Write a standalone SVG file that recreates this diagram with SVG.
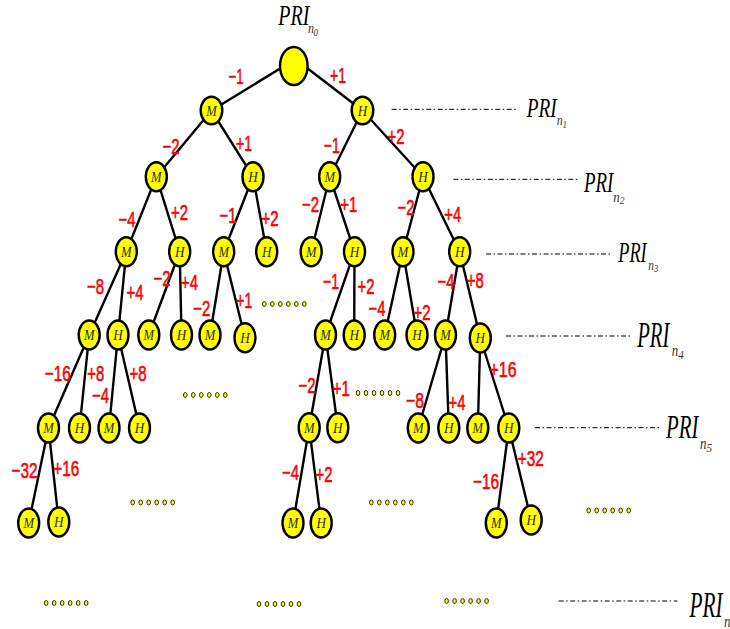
<svg xmlns="http://www.w3.org/2000/svg" width="730" height="629" viewBox="0 0 730 629">
<style>
  .edge { stroke: #000; stroke-width: 2.4; fill: none; stroke-linecap: round; }
  .node ellipse { fill: #ffff00; stroke: #000; stroke-width: 2.4; }
  .node text { font-family: "Liberation Serif", serif; font-style: italic; font-size: 15px; fill: #2a2a2a; text-anchor: middle; }
  .w { font-family: "Liberation Sans", Arial, sans-serif; font-size: 22px; fill: #ff0000; stroke: #ff0000; stroke-width: 0.6; text-anchor: middle; }
  .lvl { stroke: #000; stroke-width: 1; stroke-dasharray: 5 2.5 1.5 2.5; fill: none; }
  .pri { font-family: "Liberation Serif", serif; font-style: italic; fill: #000; }
  .sub { font-family: "Liberation Serif", serif; font-style: italic; fill: #333; }
  .dot { fill: #ffff00; stroke: #000; stroke-width: 0.8; }
</style>
<defs>
  <g id="dots6">
    <ellipse class="dot" cx="2" cy="0" rx="1.8" ry="2.5"/>
    <ellipse class="dot" cx="10" cy="0" rx="1.8" ry="2.5"/>
    <ellipse class="dot" cx="18" cy="0" rx="1.8" ry="2.5"/>
    <ellipse class="dot" cx="26" cy="0" rx="1.8" ry="2.5"/>
    <ellipse class="dot" cx="34" cy="0" rx="1.8" ry="2.5"/>
    <ellipse class="dot" cx="42" cy="0" rx="1.8" ry="2.5"/>
  </g>
</defs>

<!-- connectors -->
<g id="edges">
  <line class="edge" x1="281" y1="68" x2="211.5" y2="110.5"/>
  <line class="edge" x1="307" y1="68" x2="362.5" y2="110.5"/>

  <line class="edge" x1="211.5" y1="110.5" x2="156.3" y2="176.7"/>
  <line class="edge" x1="211.5" y1="110.5" x2="253" y2="176.7"/>
  <line class="edge" x1="362.5" y1="110.5" x2="329.7" y2="176.7"/>
  <line class="edge" x1="362.5" y1="110.5" x2="423" y2="176.7"/>

  <line class="edge" x1="156.3" y1="176.7" x2="126.3" y2="251.7"/>
  <line class="edge" x1="156.3" y1="176.7" x2="179.7" y2="251.7"/>
  <line class="edge" x1="253" y1="176.7" x2="223.7" y2="251.7"/>
  <line class="edge" x1="253" y1="176.7" x2="266.7" y2="251.7"/>
  <line class="edge" x1="329.7" y1="176.7" x2="311.2" y2="251.7"/>
  <line class="edge" x1="329.7" y1="176.7" x2="354.5" y2="251.7"/>
  <line class="edge" x1="423" y1="176.7" x2="403" y2="251.7"/>
  <line class="edge" x1="423" y1="176.7" x2="459.7" y2="251.7"/>

  <line class="edge" x1="126.3" y1="251.7" x2="89.2" y2="335"/>
  <line class="edge" x1="126.3" y1="251.7" x2="118" y2="335"/>
  <line class="edge" x1="179.7" y1="251.7" x2="148.8" y2="335"/>
  <line class="edge" x1="179.7" y1="251.7" x2="181.5" y2="335"/>
  <line class="edge" x1="223.7" y1="251.7" x2="210" y2="335"/>
  <line class="edge" x1="223.7" y1="251.7" x2="245" y2="337.7"/>
  <line class="edge" x1="354.5" y1="251.7" x2="325.5" y2="335"/>
  <line class="edge" x1="354.5" y1="251.7" x2="354.2" y2="335"/>
  <line class="edge" x1="403" y1="251.7" x2="384.7" y2="335"/>
  <line class="edge" x1="403" y1="251.7" x2="417" y2="335"/>
  <line class="edge" x1="459.7" y1="251.7" x2="445.5" y2="335"/>
  <line class="edge" x1="459.7" y1="251.7" x2="480.3" y2="338"/>

  <line class="edge" x1="89.2" y1="335" x2="48.5" y2="428"/>
  <line class="edge" x1="89.2" y1="335" x2="79.5" y2="428"/>
  <line class="edge" x1="118" y1="335" x2="109" y2="428"/>
  <line class="edge" x1="118" y1="335" x2="139.5" y2="428"/>
  <line class="edge" x1="325.5" y1="335" x2="309.2" y2="427.7"/>
  <line class="edge" x1="325.5" y1="335" x2="337.8" y2="427.7"/>
  <line class="edge" x1="445.5" y1="335" x2="418.3" y2="428"/>
  <line class="edge" x1="445.5" y1="335" x2="448.8" y2="428"/>
  <line class="edge" x1="480.3" y1="338" x2="477.8" y2="428"/>
  <line class="edge" x1="480.3" y1="338" x2="508.8" y2="428"/>

  <line class="edge" x1="48.5" y1="428" x2="28.7" y2="523"/>
  <line class="edge" x1="48.5" y1="428" x2="58.8" y2="522"/>
  <line class="edge" x1="309.2" y1="427.7" x2="293" y2="523"/>
  <line class="edge" x1="309.2" y1="427.7" x2="321.2" y2="523"/>
  <line class="edge" x1="508.8" y1="428" x2="496.3" y2="523"/>
  <line class="edge" x1="508.8" y1="428" x2="531.2" y2="520"/>
</g>

<!-- nodes -->
<g id="root" class="node"><ellipse cx="293.8" cy="66" rx="13.8" ry="19"/></g>

<g id="a1" class="node"><ellipse cx="211.5" cy="110.5" rx="10.8" ry="13.8"/><text x="211.5" y="115.5" textLength="10.5" lengthAdjust="spacingAndGlyphs">M</text></g>
<g id="a2" class="node"><ellipse cx="362.5" cy="110.5" rx="10.8" ry="13.8"/><text x="362.5" y="115.5" textLength="9.5" lengthAdjust="spacingAndGlyphs">H</text></g>

<g id="b1" class="node"><ellipse cx="156.3" cy="176.7" rx="10.5" ry="14.5"/><text x="156.3" y="181.7" textLength="10.5" lengthAdjust="spacingAndGlyphs">M</text></g>
<g id="b2" class="node"><ellipse cx="253" cy="176.7" rx="10.5" ry="14.5"/><text x="253" y="181.7" textLength="9.5" lengthAdjust="spacingAndGlyphs">H</text></g>
<g id="b3" class="node"><ellipse cx="329.7" cy="176.7" rx="10.5" ry="14.5"/><text x="329.7" y="181.7" textLength="10.5" lengthAdjust="spacingAndGlyphs">M</text></g>
<g id="b4" class="node"><ellipse cx="423" cy="176.7" rx="10.5" ry="14.5"/><text x="423" y="181.7" textLength="9.5" lengthAdjust="spacingAndGlyphs">H</text></g>

<g id="c1" class="node"><ellipse cx="126.3" cy="251.7" rx="10.5" ry="14.5"/><text x="126.3" y="256.7" textLength="10.5" lengthAdjust="spacingAndGlyphs">M</text></g>
<g id="c2" class="node"><ellipse cx="179.7" cy="251.7" rx="10.5" ry="14.5"/><text x="179.7" y="256.7" textLength="9.5" lengthAdjust="spacingAndGlyphs">H</text></g>
<g id="c3" class="node"><ellipse cx="223.7" cy="251.7" rx="10.5" ry="14.5"/><text x="223.7" y="256.7" textLength="10.5" lengthAdjust="spacingAndGlyphs">M</text></g>
<g id="c4" class="node"><ellipse cx="266.7" cy="251.7" rx="10.5" ry="14.5"/><text x="266.7" y="256.7" textLength="9.5" lengthAdjust="spacingAndGlyphs">H</text></g>
<g id="c5" class="node"><ellipse cx="311.2" cy="251.7" rx="10.5" ry="14.5"/><text x="311.2" y="256.7" textLength="10.5" lengthAdjust="spacingAndGlyphs">M</text></g>
<g id="c6" class="node"><ellipse cx="354.5" cy="251.7" rx="10.5" ry="14.5"/><text x="354.5" y="256.7" textLength="9.5" lengthAdjust="spacingAndGlyphs">H</text></g>
<g id="c7" class="node"><ellipse cx="403" cy="251.7" rx="10.5" ry="14.5"/><text x="403" y="256.7" textLength="10.5" lengthAdjust="spacingAndGlyphs">M</text></g>
<g id="c8" class="node"><ellipse cx="459.7" cy="251.7" rx="10.5" ry="14.5"/><text x="459.7" y="256.7" textLength="9.5" lengthAdjust="spacingAndGlyphs">H</text></g>

<g id="d1" class="node"><ellipse cx="89.2" cy="335" rx="10.5" ry="14.5"/><text x="89.2" y="340" textLength="10.5" lengthAdjust="spacingAndGlyphs">M</text></g>
<g id="d2" class="node"><ellipse cx="118" cy="335" rx="10.5" ry="14.5"/><text x="118" y="340" textLength="9.5" lengthAdjust="spacingAndGlyphs">H</text></g>
<g id="d3" class="node"><ellipse cx="148.8" cy="335" rx="10.5" ry="14.5"/><text x="148.8" y="340" textLength="10.5" lengthAdjust="spacingAndGlyphs">M</text></g>
<g id="d4" class="node"><ellipse cx="181.5" cy="335" rx="10.5" ry="14.5"/><text x="181.5" y="340" textLength="9.5" lengthAdjust="spacingAndGlyphs">H</text></g>
<g id="d5" class="node"><ellipse cx="210" cy="335" rx="10.5" ry="14.5"/><text x="210" y="340" textLength="10.5" lengthAdjust="spacingAndGlyphs">M</text></g>
<g id="d6" class="node"><ellipse cx="245" cy="337.7" rx="10.5" ry="14.5"/><text x="245" y="342.7" textLength="9.5" lengthAdjust="spacingAndGlyphs">H</text></g>
<g id="d7" class="node"><ellipse cx="325.5" cy="335" rx="10.5" ry="14.5"/><text x="325.5" y="340" textLength="10.5" lengthAdjust="spacingAndGlyphs">M</text></g>
<g id="d8" class="node"><ellipse cx="354.2" cy="335" rx="10.5" ry="14.5"/><text x="354.2" y="340" textLength="9.5" lengthAdjust="spacingAndGlyphs">H</text></g>
<g id="d9" class="node"><ellipse cx="384.7" cy="335" rx="10.5" ry="14.5"/><text x="384.7" y="340" textLength="10.5" lengthAdjust="spacingAndGlyphs">M</text></g>
<g id="d10" class="node"><ellipse cx="417" cy="335" rx="10.5" ry="14.5"/><text x="417" y="340" textLength="9.5" lengthAdjust="spacingAndGlyphs">H</text></g>
<g id="d11" class="node"><ellipse cx="445.5" cy="335" rx="10.5" ry="14.5"/><text x="445.5" y="340" textLength="10.5" lengthAdjust="spacingAndGlyphs">M</text></g>
<g id="d12" class="node"><ellipse cx="480.3" cy="338" rx="10.5" ry="14.5"/><text x="480.3" y="343" textLength="9.5" lengthAdjust="spacingAndGlyphs">H</text></g>

<g id="e1" class="node"><ellipse cx="48.5" cy="428" rx="10.5" ry="14.5"/><text x="48.5" y="433" textLength="10.5" lengthAdjust="spacingAndGlyphs">M</text></g>
<g id="e2" class="node"><ellipse cx="79.5" cy="428" rx="10.5" ry="14.5"/><text x="79.5" y="433" textLength="9.5" lengthAdjust="spacingAndGlyphs">H</text></g>
<g id="e3" class="node"><ellipse cx="109" cy="428" rx="10.5" ry="14.5"/><text x="109" y="433" textLength="10.5" lengthAdjust="spacingAndGlyphs">M</text></g>
<g id="e4" class="node"><ellipse cx="139.5" cy="428" rx="10.5" ry="14.5"/><text x="139.5" y="433" textLength="9.5" lengthAdjust="spacingAndGlyphs">H</text></g>
<g id="e5" class="node"><ellipse cx="309.2" cy="427.7" rx="10.5" ry="14.5"/><text x="309.2" y="432.7" textLength="10.5" lengthAdjust="spacingAndGlyphs">M</text></g>
<g id="e6" class="node"><ellipse cx="337.8" cy="427.7" rx="10.5" ry="14.5"/><text x="337.8" y="432.7" textLength="9.5" lengthAdjust="spacingAndGlyphs">H</text></g>
<g id="e7" class="node"><ellipse cx="418.3" cy="428" rx="10.5" ry="14.5"/><text x="418.3" y="433" textLength="10.5" lengthAdjust="spacingAndGlyphs">M</text></g>
<g id="e8" class="node"><ellipse cx="448.8" cy="428" rx="10.5" ry="14.5"/><text x="448.8" y="433" textLength="9.5" lengthAdjust="spacingAndGlyphs">H</text></g>
<g id="e9" class="node"><ellipse cx="477.8" cy="428" rx="10.5" ry="14.5"/><text x="477.8" y="433" textLength="10.5" lengthAdjust="spacingAndGlyphs">M</text></g>
<g id="e10" class="node"><ellipse cx="508.8" cy="428" rx="10.5" ry="14.5"/><text x="508.8" y="433" textLength="9.5" lengthAdjust="spacingAndGlyphs">H</text></g>

<g id="f1" class="node"><ellipse cx="28.7" cy="523" rx="10.5" ry="14.5"/><text x="28.7" y="528" textLength="10.5" lengthAdjust="spacingAndGlyphs">M</text></g>
<g id="f2" class="node"><ellipse cx="58.8" cy="522" rx="10.5" ry="14.5"/><text x="58.8" y="527" textLength="9.5" lengthAdjust="spacingAndGlyphs">H</text></g>
<g id="f3" class="node"><ellipse cx="293" cy="523" rx="10.5" ry="14.5"/><text x="293" y="528" textLength="10.5" lengthAdjust="spacingAndGlyphs">M</text></g>
<g id="f4" class="node"><ellipse cx="321.2" cy="523" rx="10.5" ry="14.5"/><text x="321.2" y="528" textLength="9.5" lengthAdjust="spacingAndGlyphs">H</text></g>
<g id="f5" class="node"><ellipse cx="496.3" cy="523" rx="10.5" ry="14.5"/><text x="496.3" y="528" textLength="10.5" lengthAdjust="spacingAndGlyphs">M</text></g>
<g id="f6" class="node"><ellipse cx="531.2" cy="520" rx="10.5" ry="14.5"/><text x="531.2" y="525" textLength="9.5" lengthAdjust="spacingAndGlyphs">H</text></g>

<!-- edge weights -->
<g id="weights">
  <text class="w" x="236" y="84" textLength="15" lengthAdjust="spacingAndGlyphs">−1</text>
  <text class="w" x="338" y="83" textLength="16" lengthAdjust="spacingAndGlyphs">+1</text>
  <text class="w" x="171" y="154" textLength="17" lengthAdjust="spacingAndGlyphs">−2</text>
  <text class="w" x="244" y="151" textLength="16" lengthAdjust="spacingAndGlyphs">+1</text>
  <text class="w" x="331.7" y="153" textLength="16" lengthAdjust="spacingAndGlyphs">−1</text>
  <text class="w" x="396" y="144" textLength="17" lengthAdjust="spacingAndGlyphs">+2</text>
  <text class="w" x="127" y="227" textLength="17" lengthAdjust="spacingAndGlyphs">−4</text>
  <text class="w" x="179.5" y="219.5" textLength="17" lengthAdjust="spacingAndGlyphs">+2</text>
  <text class="w" x="228" y="223" textLength="17" lengthAdjust="spacingAndGlyphs">−1</text>
  <text class="w" x="270" y="226" textLength="17" lengthAdjust="spacingAndGlyphs">+2</text>
  <text class="w" x="310.5" y="212" textLength="17" lengthAdjust="spacingAndGlyphs">−2</text>
  <text class="w" x="348.7" y="211.5" textLength="17" lengthAdjust="spacingAndGlyphs">+1</text>
  <text class="w" x="406" y="215" textLength="17" lengthAdjust="spacingAndGlyphs">−2</text>
  <text class="w" x="452.8" y="222" textLength="17" lengthAdjust="spacingAndGlyphs">+4</text>
  <text class="w" x="95.5" y="294" textLength="17" lengthAdjust="spacingAndGlyphs">−8</text>
  <text class="w" x="135" y="300" textLength="17" lengthAdjust="spacingAndGlyphs">+4</text>
  <text class="w" x="162" y="285.5" textLength="17" lengthAdjust="spacingAndGlyphs">−2</text>
  <text class="w" x="189.5" y="290" textLength="17" lengthAdjust="spacingAndGlyphs">+4</text>
  <text class="w" x="201.7" y="315.5" textLength="17" lengthAdjust="spacingAndGlyphs">−2</text>
  <text class="w" x="244.3" y="308" textLength="16" lengthAdjust="spacingAndGlyphs">+1</text>
  <text class="w" x="331" y="288.5" textLength="16" lengthAdjust="spacingAndGlyphs">−1</text>
  <text class="w" x="366" y="294" textLength="17" lengthAdjust="spacingAndGlyphs">+2</text>
  <text class="w" x="377" y="316" textLength="17" lengthAdjust="spacingAndGlyphs">−4</text>
  <text class="w" x="422" y="320" textLength="17" lengthAdjust="spacingAndGlyphs">+2</text>
  <text class="w" x="446" y="289" textLength="17" lengthAdjust="spacingAndGlyphs">−4</text>
  <text class="w" x="475.3" y="288" textLength="17" lengthAdjust="spacingAndGlyphs">+8</text>
  <text class="w" x="57.7" y="380.5" textLength="26" lengthAdjust="spacingAndGlyphs">−16</text>
  <text class="w" x="95.7" y="380.5" textLength="17" lengthAdjust="spacingAndGlyphs">+8</text>
  <text class="w" x="100.5" y="403.3" textLength="17" lengthAdjust="spacingAndGlyphs">−4</text>
  <text class="w" x="138" y="381.3" textLength="17" lengthAdjust="spacingAndGlyphs">+8</text>
  <text class="w" x="307" y="393" textLength="17" lengthAdjust="spacingAndGlyphs">−2</text>
  <text class="w" x="341.3" y="396" textLength="17" lengthAdjust="spacingAndGlyphs">+1</text>
  <text class="w" x="415" y="408" textLength="18" lengthAdjust="spacingAndGlyphs">−8</text>
  <text class="w" x="457" y="409.7" textLength="17" lengthAdjust="spacingAndGlyphs">+4</text>
  <text class="w" x="503" y="377" textLength="27" lengthAdjust="spacingAndGlyphs">+16</text>
  <text class="w" x="24.5" y="478" textLength="26" lengthAdjust="spacingAndGlyphs">−32</text>
  <text class="w" x="66.3" y="476.3" textLength="26" lengthAdjust="spacingAndGlyphs">+16</text>
  <text class="w" x="290.5" y="479.7" textLength="17" lengthAdjust="spacingAndGlyphs">−4</text>
  <text class="w" x="324" y="482" textLength="17" lengthAdjust="spacingAndGlyphs">+2</text>
  <text class="w" x="486" y="489" textLength="26" lengthAdjust="spacingAndGlyphs">−16</text>
  <text class="w" x="530.7" y="466" textLength="26" lengthAdjust="spacingAndGlyphs">+32</text>
</g>

<!-- ellipsis marks for omitted branches -->
<g id="ellipses">
  <use href="#dots6" x="262.3" y="304"/>
  <use href="#dots6" x="183.3" y="395"/>
  <use href="#dots6" x="356" y="393"/>
  <use href="#dots6" x="130.7" y="502.5"/>
  <use href="#dots6" x="369.3" y="502.5"/>
  <use href="#dots6" x="586.7" y="510.5"/>
  <use href="#dots6" x="44.2" y="603"/>
  <use href="#dots6" x="257" y="604"/>
  <use href="#dots6" x="444.6" y="601"/>
</g>

<!-- level guides -->
<g id="levels">
  <line class="lvl" x1="391.7" y1="109.3" x2="518.3" y2="109.3"/>
  <line class="lvl" x1="453.3" y1="179.3" x2="579" y2="179.3"/>
  <line class="lvl" x1="486" y1="254" x2="611.7" y2="254"/>
  <line class="lvl" x1="506" y1="336" x2="631.7" y2="336"/>
  <line class="lvl" x1="535" y1="427.7" x2="660" y2="427.7"/>
  <line class="lvl" x1="558.7" y1="601" x2="677.4" y2="601"/>
</g>

<!-- level labels -->
<g id="pri-n0">
  <text class="pri" x="278.3" y="25" font-size="30" textLength="31" lengthAdjust="spacingAndGlyphs">PRI</text>
  <text class="sub" x="308" y="33" font-size="15" textLength="6" lengthAdjust="spacingAndGlyphs">n</text>
  <text class="sub" x="313.5" y="35.5" font-size="10" textLength="4.5" lengthAdjust="spacingAndGlyphs">0</text>
</g>
<g id="pri-n1">
  <text class="pri" x="526.7" y="116.7" font-size="27.7" textLength="30" lengthAdjust="spacingAndGlyphs">PRI</text>
  <text class="sub" x="556.7" y="125" font-size="15" textLength="6" lengthAdjust="spacingAndGlyphs">n</text>
  <text class="sub" x="562.7" y="127.5" font-size="10" textLength="4" lengthAdjust="spacingAndGlyphs">1</text>
</g>
<g id="pri-n2">
  <text class="pri" x="584" y="191.7" font-size="30" textLength="29.3" lengthAdjust="spacingAndGlyphs">PRI</text>
  <text class="sub" x="613.3" y="201.7" font-size="15" textLength="6.5" lengthAdjust="spacingAndGlyphs">n</text>
  <text class="sub" x="620" y="203.5" font-size="10" textLength="4.5" lengthAdjust="spacingAndGlyphs">2</text>
</g>
<g id="pri-n3">
  <text class="pri" x="618.3" y="261.7" font-size="29" textLength="28.4" lengthAdjust="spacingAndGlyphs">PRI</text>
  <text class="sub" x="648.3" y="270" font-size="15" textLength="5.7" lengthAdjust="spacingAndGlyphs">n</text>
  <text class="sub" x="654" y="272" font-size="10" textLength="4.3" lengthAdjust="spacingAndGlyphs">3</text>
</g>
<g id="pri-n4">
  <text class="pri" x="637.3" y="346.7" font-size="35" textLength="32" lengthAdjust="spacingAndGlyphs">PRI</text>
  <text class="sub" x="671.7" y="356" font-size="17" textLength="6.5" lengthAdjust="spacingAndGlyphs">n</text>
  <text class="sub" x="678.2" y="358.5" font-size="12" textLength="5.5" lengthAdjust="spacingAndGlyphs">4</text>
</g>
<g id="pri-n5">
  <text class="pri" x="666" y="438.3" font-size="33" textLength="32.3" lengthAdjust="spacingAndGlyphs">PRI</text>
  <text class="sub" x="700" y="449" font-size="17" textLength="6.5" lengthAdjust="spacingAndGlyphs">n</text>
  <text class="sub" x="706.5" y="452" font-size="12" textLength="5.5" lengthAdjust="spacingAndGlyphs">5</text>
</g>
<g id="pri-n">
  <text class="pri" x="689.5" y="617" font-size="36" textLength="33" lengthAdjust="spacingAndGlyphs">PRI</text>
  <text class="sub" x="724" y="627" font-size="17" textLength="6.5" lengthAdjust="spacingAndGlyphs">n</text>
</g>
</svg>
